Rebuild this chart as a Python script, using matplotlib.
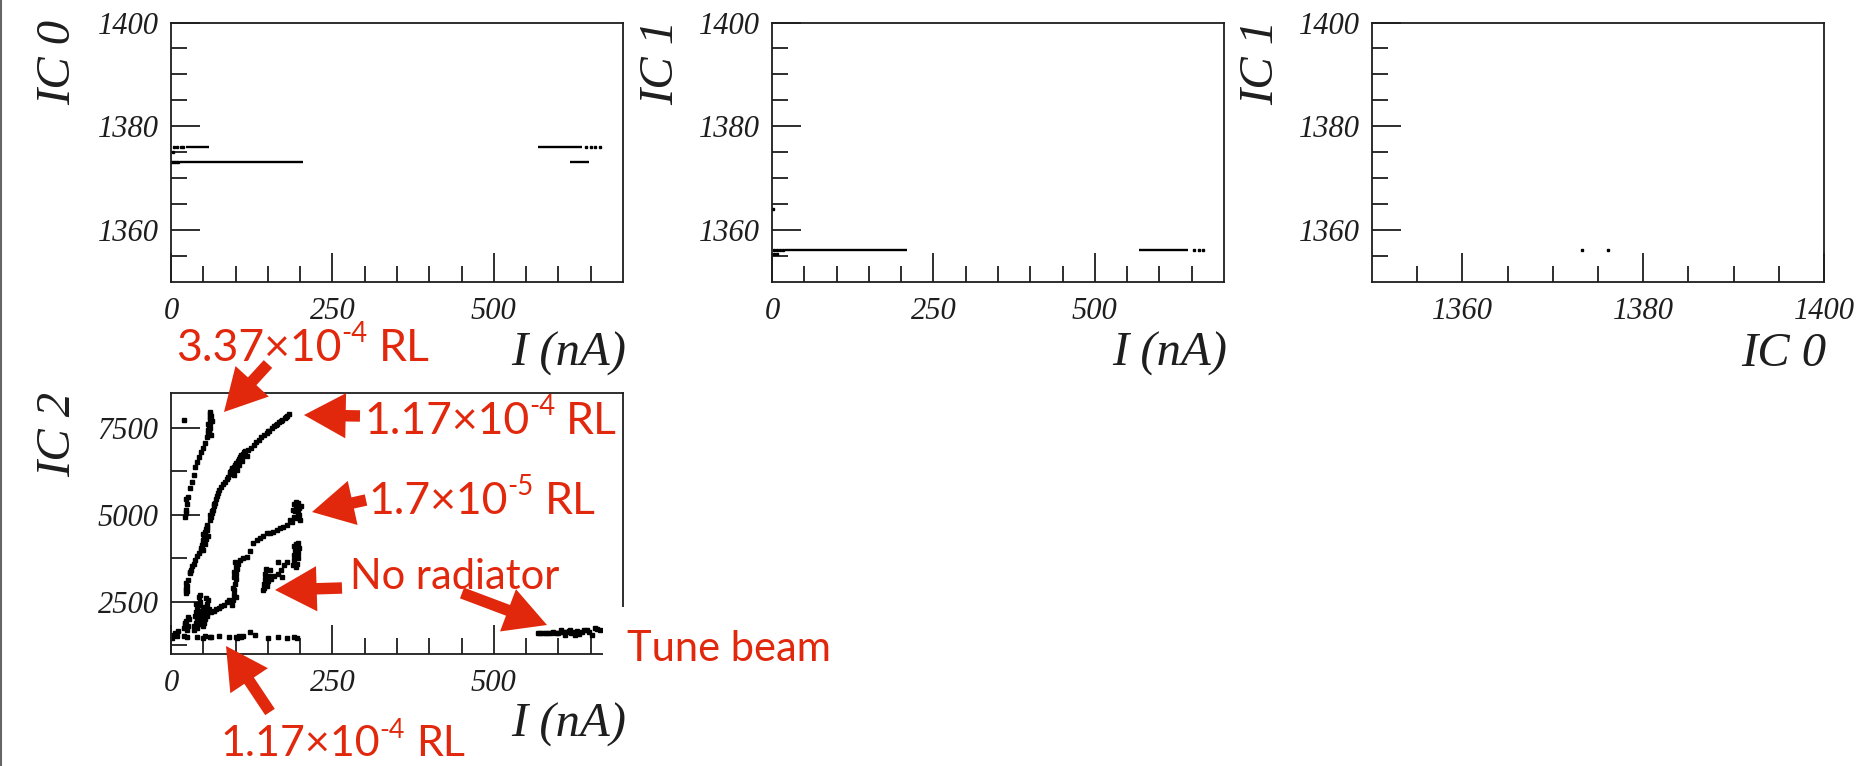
import matplotlib
matplotlib.use("Agg")
import matplotlib.pyplot as plt
from matplotlib.patches import FancyArrowPatch, Rectangle
from matplotlib.lines import Line2D
from matplotlib.font_manager import FontProperties

W, H = 1866, 766
INK = "#1e1e1e"
RED = "#e1280c"

# ---- IC0 vs beam current: flat runs (I from, I to, IC0 level) and lone points
ic0_run_from = [14, 23, 568, 618]
ic0_run_to = [205, 59, 636, 647]
ic0_run_level = [1373.2, 1376.1, 1376.1, 1373.2]
ic0_dot_I = [2, 5, 8, 11, 5, 10, 15, 19, 643, 650, 657, 664, 3]
ic0_dot_IC0 = [1373.2, 1373.2, 1373.2, 1373.2, 1376.1, 1376.1, 1376.1, 1376.1,
               1376.1, 1376.1, 1376.1, 1376.1, 1375.0]

# ---- IC1 vs beam current
ic1_run_from = [20, 568]
ic1_run_to = [209, 644]
ic1_run_level = [1356.1, 1356.1]
ic1_dot_I = [3, 8, 13, 17, 3, 8, 654, 661, 668, 2]
ic1_dot_IC1 = [1356.1, 1356.1, 1356.1, 1356.1, 1355.3, 1355.3, 1356.1, 1356.1,
               1356.1, 1364.0]

# ---- IC1 vs IC0
corr_IC0 = [1373.2, 1376.1]
corr_IC1 = [1356.1, 1356.1]

# ---- IC2 vs beam current, one list per radiator setting
r337_I = [2, 4, 6, 9, 11, 23, 24, 25, 24, 26, 23, 25, 30, 22, 23, 24, 25, 23,
          27, 29, 32, 35, 37, 41, 44, 46, 49, 52, 55, 57, 58, 59, 60, 61, 62,
          60, 59, 61, 63, 58, 60, 62, 61, 59, 20]
r337_IC2 = [1450, 1550, 1600, 1520, 1650, 2750, 2850, 2950, 3050, 3130, 2900,
            2800, 3370, 4950, 5050, 5150, 5300, 5450, 5520, 5760, 5950, 6140,
            6380, 6530, 6670, 6810, 6910, 7050, 7250, 7350, 7450, 7550, 7650,
            7750, 7850, 7900, 7400, 7500, 7700, 7600, 7800, 7300, 7950, 7350,
            7720]

r117_I = [29, 31, 33, 35, 37, 40, 43, 46, 47, 48, 49, 50, 51, 52, 53, 54, 55,
          56, 49, 52, 54, 57, 50, 55, 60, 62, 63, 65, 66, 68, 69, 71, 73, 75,
          78, 80, 83, 86, 61, 64, 67, 89, 91, 93, 95, 97, 99, 101, 103, 105,
          107, 109, 111, 113, 115, 92, 96, 100, 104, 108, 112, 98, 102, 106,
          110, 94, 117, 120, 124, 128, 132, 136, 140, 144, 148, 152, 156, 160,
          164, 168, 172, 176, 180, 182, 178, 170, 162, 150]
r117_IC2 = [3330, 3420, 3520, 3600, 3700, 3820, 3900, 3980, 4050, 4120, 4200,
            4280, 4350, 4420, 4500, 4580, 4650, 4720, 4000, 4150, 4300, 4400,
            4450, 4550, 4850, 4950, 5050, 5150, 5250, 5350, 5450, 5550, 5620,
            5700, 5800, 5880, 5950, 6020, 5000, 5100, 5300, 6100, 6180, 6250,
            6320, 6380, 6440, 6500, 6560, 6610, 6660, 6710, 6760, 6800, 6840,
            6230, 6280, 6380, 6480, 6600, 6700, 6150, 6300, 6420, 6550, 6350,
            6700, 6870, 6930, 7000, 7080, 7150, 7240, 7300, 7360, 7420, 7480,
            7550, 7600, 7660, 7720, 7790, 7850, 7900, 7820, 7700, 7580, 7400]

r17_I = [20, 22, 24, 26, 28, 21, 25, 27, 36, 38, 40, 42, 44, 46, 48, 50, 52,
         54, 56, 58, 39, 41, 43, 45, 47, 49, 51, 53, 55, 57, 59, 37, 40, 44,
         45, 50, 36, 42, 48, 54, 38, 46, 62, 66, 70, 74, 78, 82, 86, 90, 95,
         96, 97, 98, 99, 100, 101, 102, 103, 96, 98, 100, 97, 101, 99, 107,
         112, 117, 122, 127, 133, 138, 143, 148, 153, 158, 164, 169, 174, 179,
         184, 188, 190, 192, 194, 196, 198, 200, 191, 195, 199, 189, 197, 193,
         201]
r17_IC2 = [1750, 1850, 1950, 1800, 2000, 1900, 1700, 2050, 1800, 1900, 2000,
           2100, 1850, 1950, 2050, 2150, 2250, 2350, 2450, 2550, 2200, 2300,
           2400, 2500, 2250, 2350, 1900, 2000, 2100, 2200, 2300, 2100, 1750,
           2650, 2700, 1800, 1700, 1950, 1850, 2600, 2450, 2150, 2200, 2250,
           2280, 2330, 2380, 2420, 2480, 2560, 2400, 2550, 2700, 2850, 3000,
           3150, 3300, 3450, 3600, 2900, 3200, 3500, 3350, 2650, 3650, 3700,
           3760, 3800, 3950, 4180, 4280, 4320, 4400, 4470, 4490, 4510, 4560,
           4610, 4650, 4700, 4850, 4800, 4950, 5100, 5250, 5350, 5000, 4850,
           5300, 4900, 5200, 5150, 5050, 5380, 5250]

none_I = [143, 144, 145, 146, 147, 149, 150, 152, 153, 144, 148, 155, 160,
          165, 170, 175, 180, 165, 172, 189, 190, 191, 192, 193, 195, 196, 197,
          198, 194, 190, 196]
none_IC2 = [2850, 3000, 3150, 3300, 3450, 2950, 3100, 3250, 3400, 2900, 3050,
            3150, 3250, 3300, 3400, 3550, 3650, 3650, 3200, 3550, 3700, 3850,
            4000, 4150, 3600, 3750, 3900, 4050, 3500, 4100, 4180]

low_I = [20, 25, 40, 50, 52, 60, 62, 75, 90, 100, 102, 105, 108, 112, 130,
         150, 165, 180, 190, 195, 122]
low_IC2 = [1520, 1480, 1490, 1470, 1520, 1480, 1500, 1510, 1480, 1500, 1460,
           1520, 1480, 1530, 1560, 1470, 1480, 1470, 1480, 1470, 1640]

tune_I = [568, 572, 576, 580, 584, 588, 592, 596, 600, 604, 608, 612, 616, 620,
          624, 628, 632, 636, 640, 644, 648, 652, 656, 660, 664, 610, 626, 604,
          618]
tune_IC2 = [1600, 1610, 1600, 1590, 1610, 1600, 1620, 1610, 1600, 1620, 1640,
            1620, 1650, 1600, 1630, 1660, 1580, 1640, 1700, 1680, 1620, 1560,
            1740, 1720, 1700, 1560, 1560, 1680, 1700]

# ---- axis scales and tick labels
i_lim = (0, 700)
i_major = [0, 250, 500]
i_minor = [50, 100, 150, 200, 300, 350, 400, 450, 550, 600, 650]
i_labels = ["0", "250", "500"]
ic_lim = (1350, 1400)
ic_major = [1360, 1380, 1400]
ic_minor = [1355, 1365, 1370, 1375, 1385, 1390, 1395]
ic_labels = ["1360", "1380", "1400"]
ic2_lim = (1000, 8500)
ic2_major = [2500, 5000, 7500]
ic2_minor = [1250, 3750, 6250]
ic2_labels = ["2500", "5000", "7500"]

tick_font = FontProperties(family="Liberation Serif", style="italic", size=22)
label_font = FontProperties(family="Liberation Serif", style="italic", size=35)
red_size = 32


def fx(px):
    return px / W


def fy(py):
    return 1 - py / H


def add_panel(left, top, right, bottom):
    return fig.add_axes([fx(left), fy(bottom), (right - left) / W, (bottom - top) / H])


def style_axes(ax, xlim, xmaj, xmin, xlab, ylim, ymaj, ymin, ylab):
    ax.set_xlim(*xlim)
    ax.set_ylim(*ylim)
    ax.set_xticks(xmaj)
    ax.set_xticks(xmin, minor=True)
    ax.set_xticklabels(xlab)
    ax.set_yticks(ymaj)
    ax.set_yticks(ymin, minor=True)
    ax.set_yticklabels(ylab)
    ax.tick_params(which="both", direction="in", top=False, right=False,
                   color=INK, width=1.3, labelcolor=INK)
    ax.tick_params(which="major", length=21)
    ax.tick_params(which="minor", length=11.5)
    ax.tick_params(axis="x", pad=11)
    ax.tick_params(axis="y", pad=9)
    for lab in ax.get_xticklabels() + ax.get_yticklabels():
        lab.set_fontproperties(tick_font)
    for sp in ax.spines.values():
        sp.set_linewidth(1.3)
        sp.set_color(INK)


def red_label(left, base, main, sup=None, tail=None, size=red_size):
    renderer = fig.canvas.get_renderer()
    t = fig.text(fx(left), fy(base), main, fontsize=size, color=RED,
                 family="Lato", va="baseline", ha="left", zorder=15)
    x = t.get_window_extent(renderer).x1
    if sup is not None:
        s = fig.text(x / W, fy(base - 0.42 * size * 100 / 72), sup,
                     fontsize=size * 0.62, color=RED, family="Lato",
                     va="baseline", ha="left", zorder=15)
        x = s.get_window_extent(renderer).x1
    if tail is not None:
        fig.text((x + 11) / W, fy(base), tail, fontsize=size, color=RED,
                 family="Lato", va="baseline", ha="left", zorder=15)


def red_arrow(x0, y0, x1, y1):
    arr = FancyArrowPatch((fx(x0), fy(y0)), (fx(x1), fy(y1)),
                          transform=fig.transFigure,
                          arrowstyle="simple,head_length=1.2,head_width=1.3,tail_width=0.33",
                          mutation_scale=25, shrinkA=0, shrinkB=0,
                          color=RED, lw=0, zorder=20)
    fig.add_artist(arr)


fig = plt.figure(figsize=(W / 100, H / 100), dpi=100)
fig.patch.set_facecolor("white")

dot = dict(marker="s", markersize=2.0, linestyle="none", color="black")

# IC0 vs I
ax1 = add_panel(171, 22.5, 623, 282)
ax1.hlines(ic0_run_level, ic0_run_from, ic0_run_to, color="black", lw=1.7)
ax1.plot(ic0_dot_I, ic0_dot_IC0, **dot)
style_axes(ax1, i_lim, i_major, i_minor, i_labels, ic_lim, ic_major, ic_minor, ic_labels)

# IC1 vs I
ax2 = add_panel(772, 22.5, 1224, 282)
ax2.hlines(ic1_run_level, ic1_run_from, ic1_run_to, color="black", lw=1.7)
ax2.plot(ic1_dot_I, ic1_dot_IC1, **dot)
style_axes(ax2, i_lim, i_major, i_minor, i_labels, ic_lim, ic_major, ic_minor, ic_labels)

# IC1 vs IC0
ax3 = add_panel(1372, 22.5, 1824, 282)
ax3.plot(corr_IC0, corr_IC1, marker="s", markersize=1.5, linestyle="none", color="black")
style_axes(ax3, ic_lim, ic_major, ic_minor, ic_labels, ic_lim, ic_major, ic_minor, ic_labels)

# IC2 vs I
ax4 = add_panel(171, 393, 623, 654)
for xs, ys in [(r337_I, r337_IC2), (r117_I, r117_IC2), (r17_I, r17_IC2),
               (none_I, none_IC2), (low_I, low_IC2), (tune_I, tune_IC2)]:
    ax4.plot(xs, ys, marker="s", markersize=2.5, linestyle="none", color="black")
style_axes(ax4, i_lim, i_major, i_minor, i_labels, ic2_lim, ic2_major, ic2_minor, ic2_labels)

# axis titles
for xc, top, txt in [(58, 20, "IC 0"), (661, 20, "IC 1"), (1261, 20, "IC 1"), (58, 392, "IC 2")]:
    fig.text(fx(xc), fy(top), txt, rotation=90, ha="center", va="top",
             fontproperties=label_font, color=INK)
for right, base, txt in [(626, 366, "I (nA)"), (1227, 366, "I (nA)"),
                         (1826, 366, "IC 0"), (626, 737, "I (nA)")]:
    fig.text(fx(right), fy(base), txt, ha="right", va="baseline",
             fontproperties=label_font, color=INK)

# white patch behind the "Tune beam" note
fig.add_artist(Rectangle((fx(603), fy(682)), 240 / W, 75 / H, transform=fig.transFigure,
                         facecolor="white", edgecolor="none", zorder=10))

# annotations
red_label(176, 361, "3.37×10", "-4", "RL")
red_label(364, 434, "1.17×10", "-4", "RL")
red_label(368, 514, "1.7×10", "-5", "RL")
red_label(350, 589, "No radiator", size=30)
red_label(220, 756, "1.17×10", "-4", "RL", size=31)
fig.text(fx(627), fy(661), "Tune beam", fontsize=30, color=RED,
         family="Lato", va="baseline", ha="left", zorder=15)

red_arrow(268, 364, 224, 412)
red_arrow(360, 416, 304, 415)
red_arrow(366, 500, 312, 512)
red_arrow(342, 588, 275, 590)
red_arrow(462, 593, 547, 625)
red_arrow(270, 712, 226, 646)

# page edge on the left
fig.add_artist(Line2D([fx(1), fx(1)], [0, 1], transform=fig.transFigure,
                      color="#666666", lw=1.5))

fig.savefig("out.png", dpi=100)
